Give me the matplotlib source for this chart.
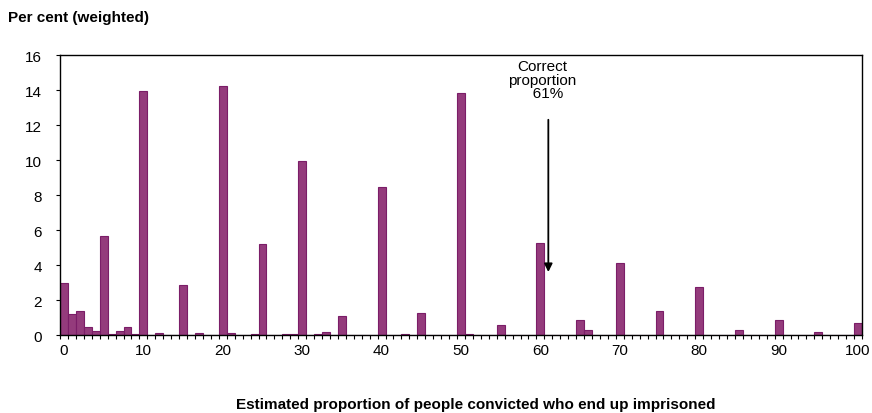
import numpy as np
import matplotlib
matplotlib.use("Agg")
import matplotlib.pyplot as plt

plt.rcParams["font.family"] = ["Liberation Sans", "DejaVu Sans"]

# estimated proportion (%) -> share of respondents (per cent, weighted)
estimate = list(range(101))
percent = [
    3.0, 1.2, 1.39, 0.44, 0.23, 5.64, 0.07, 0.25, 0.44, 0.08,    # 0-9
    13.94, 0, 0.12, 0, 0, 2.86, 0, 0.1, 0, 0,                    # 10-19
    14.23, 0.1, 0, 0, 0.08, 5.2, 0, 0, 0.07, 0.08,               # 20-29
    9.92, 0, 0.08, 0.15, 0, 1.09, 0, 0, 0, 0,                    # 30-39
    8.47, 0, 0, 0.08, 0, 1.28, 0, 0, 0, 0,                       # 40-49
    13.85, 0.08, 0, 0, 0, 0.55, 0, 0, 0, 0,                      # 50-59
    5.26, 0, 0, 0, 0, 0.86, 0.26, 0, 0, 0,                       # 60-69
    4.1, 0, 0, 0, 0, 1.39, 0, 0, 0, 0,                           # 70-79
    2.74, 0, 0, 0, 0, 0.3, 0, 0, 0, 0,                           # 80-89
    0.84, 0, 0, 0, 0, 0.15, 0, 0, 0, 0,                          # 90-99
    0.67,                                                        # 100
]
correct = 61
xtick_labels = list(range(0, 101, 10))

fig = plt.figure(figsize=(8.72, 4.14), dpi=100)
ax = fig.add_axes([0.0688, 0.1884, 0.9197, 0.6763])

ax.bar(estimate, percent, width=1.0, color="#943b7c", edgecolor="#7b1d68",
       linewidth=0.8, zorder=2)

# arrow marking the correct proportion
ax.annotate("", xy=(correct, 3.6), xytext=(correct, 12.3),
            arrowprops=dict(arrowstyle="-|>", color="black", lw=1.3,
                            mutation_scale=12, shrinkA=0, shrinkB=0),
            zorder=3)
ax.text(correct - 0.8, 15.75, "Correct\nproportion\n   61%", ha="center",
        va="top", fontsize=11, linespacing=0.95)

ax.set_xlim(-0.5, 100.5)
ax.set_ylim(0, 16)
ax.set_yticks(range(0, 17, 2))
ax.set_xticks(xtick_labels)
ax.set_xticks(np.arange(-0.5, 101, 1), minor=True)
ax.tick_params(axis="x", which="major", length=0, pad=6, labelsize=11)
ax.tick_params(axis="x", which="minor", length=3, width=0.8, direction="out")
ax.tick_params(axis="y", length=3, width=0.8, direction="out", pad=10,
               labelsize=11)
for sp in ax.spines.values():
    sp.set_linewidth(1.0)
    sp.set_color("black")

fig.text(0.009, 0.9565, "Per cent (weighted)", fontsize=11, fontweight="bold",
         va="center", ha="left")
fig.text(0.546, 0.022, "Estimated proportion of people convicted who end up imprisoned",
         fontsize=11, fontweight="bold", ha="center", va="center")

fig.savefig("out.png", dpi=100)
